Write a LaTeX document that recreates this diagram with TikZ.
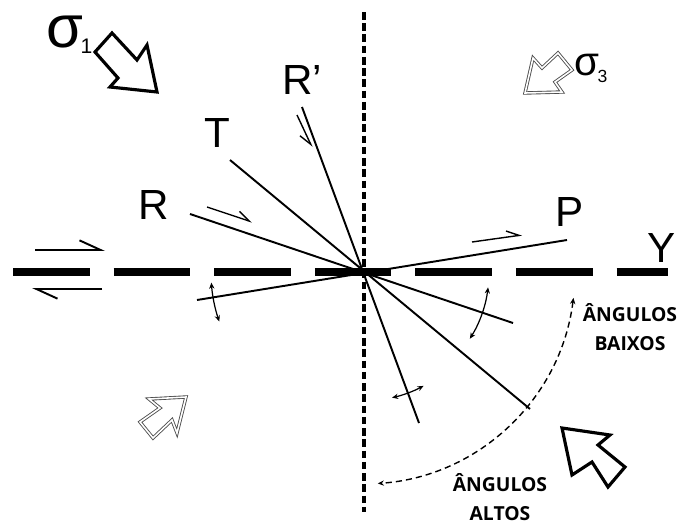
\documentclass[tikz,border=0pt]{standalone}
\usepackage{fontspec}
\setmainfont{Liberation Sans}
\newfontfamily\anglefont{Open Sans}
\usepackage{tikz}
\usetikzlibrary{arrows.meta,calc}

\begin{document}
\begin{tikzpicture}[x=0.02cm, y=-0.02cm, >={Stealth[length=3.5pt,width=3pt]},
        fault/.style={line width=1.1pt},
        sense/.style={line width=0.8pt, -{Straight Barb[harpoon,length=7pt,width=7pt]}},
        bigsense/.style={line width=1.1pt, -{Straight Barb[harpoon,length=12pt,width=11pt]}},
        rot/.style={line width=0.7pt, <->},
        stressbig/.style={line width=1.8pt, line join=miter},
        stresssmall/.style={draw=black!70, line width=0.5pt, double=white, double distance=0.9pt, line join=miter},
        letter/.style={inner sep=0pt, font=\fontsize{24}{24}\selectfont},
        angles/.style={inner sep=0pt, align=center, font=\anglefont\bfseries\fontsize{11}{16.7}\selectfont}]
        \useasboundingbox (0,0) rectangle (680,524);

        % Main fault Y and vertical trace
        \coordinate (O) at (363,272);
        \coordinate (Yw) at (13,272);
        \coordinate (Ye) at (668,272);
        \coordinate (Vn) at (364,12);
        \coordinate (Vs) at (364,512);
        \draw[line width=4pt, dash pattern=on 43.65pt off 13.6pt] (Yw) -- (Ye);
        \draw[line width=2.2pt, dash pattern=on 4.3pt off 2.1pt] (Vn) -- (Vs);

        % Secondary fractures
        \coordinate (Rs) at (190,214);
        \coordinate (Re) at (513,323);
        \coordinate (Ts) at (230,160);
        \coordinate (Te) at (530,409);
        \coordinate (Qs) at (302,107);
        \coordinate (Qe) at (419,423);
        \coordinate (Ps) at (567,240);
        \coordinate (Pe) at (197,300);
        \draw[fault] (Rs) -- (Re);
        \draw[fault] (Ts) -- (Te);
        \draw[fault] (Qs) -- (Qe);
        \draw[fault] (Ps) -- (Pe);

        % Labels
        \node[letter] (labR) at (154,205) {R};
        \node[letter] (labT) at (217,133) {T};
        \node[letter] (labQ) at (302,80) {R’};
        \node[letter] (labP) at (570,212) {P};
        \node[letter] (labY) at (662,248) {Y};
        \node[anchor=base west, inner sep=0pt] (sig1) at (46,48)
            {\fontsize{34}{34}\selectfont σ\kern-1.5pt\raisebox{-3pt}{\fontsize{12}{12}\selectfont 1}};
        \node[anchor=base west, inner sep=0pt] (sig3) at (574,75)
            {\fontsize{23}{24}\selectfont σ\kern-1pt\raisebox{-4pt}{\fontsize{10}{10}\selectfont 3}};
        \node[angles] (baixos) at (630,327) {ÂNGULOS\\BAIXOS};
        \node[angles] (altos) at (500,497) {ÂNGULOS\\ALTOS};

        % Sense of slip
        \coordinate (ya) at (35,250);
        \coordinate (yb) at (105,250);
        \coordinate (yc) at (102,289);
        \coordinate (yd) at (32,289);
        \draw[bigsense] (ya) -- (yb);
        \draw[bigsense] (yc) -- (yd);
        \coordinate (ra) at (207,207);
        \coordinate (rb) at (252,222);
        \draw[sense] (ra) -- (rb);
        \coordinate (pa) at (472,242);
        \coordinate (pb) at (522,235);
        \draw[sense] (pa) -- (pb);
        \coordinate (qa) at (297,115);
        \coordinate (qb) at (312,147);
        \draw[line width=0.8pt, -{Straight Barb[harpoon,swap,length=7pt,width=7pt]}] (qa) -- (qb);

        % Rotation of the fractures
        \draw[rot] (O) ++(176:152) arc[start angle=176, end angle=161, radius=152];
        \draw[rot] (O) ++(7:126) arc[start angle=7, end angle=32, radius=126];
        \draw[rot] (O) ++(62:129) arc[start angle=62, end angle=77, radius=129];
        \draw[line width=0.8pt, dash pattern=on 3.5pt off 2.3pt, <->] (O) ++(7:212) arc[start angle=7, end angle=86, radius=212];

        % Stress arrows
        \draw[stressbig] (95,52) -- (112,33) -- (137,60) -- (147,45) -- (157,92) -- (110,87) -- (118,78) -- cycle;
        \draw[stressbig] (562,428) -- (610,435) -- (598,445) -- (625,467) -- (608,487) -- (592,462) -- (572,475) -- cycle;
        \draw[stresssmall] (525,93) -- (533,58) -- (542,68) -- (558,53) -- (572,70) -- (555,82) -- (562,92) -- cycle;
        \draw[stresssmall] (186,397) -- (149,399) -- (160,408) -- (140,422) -- (153,438) -- (172,420) -- (177,433) -- cycle;
\end{tikzpicture}
\end{document}
